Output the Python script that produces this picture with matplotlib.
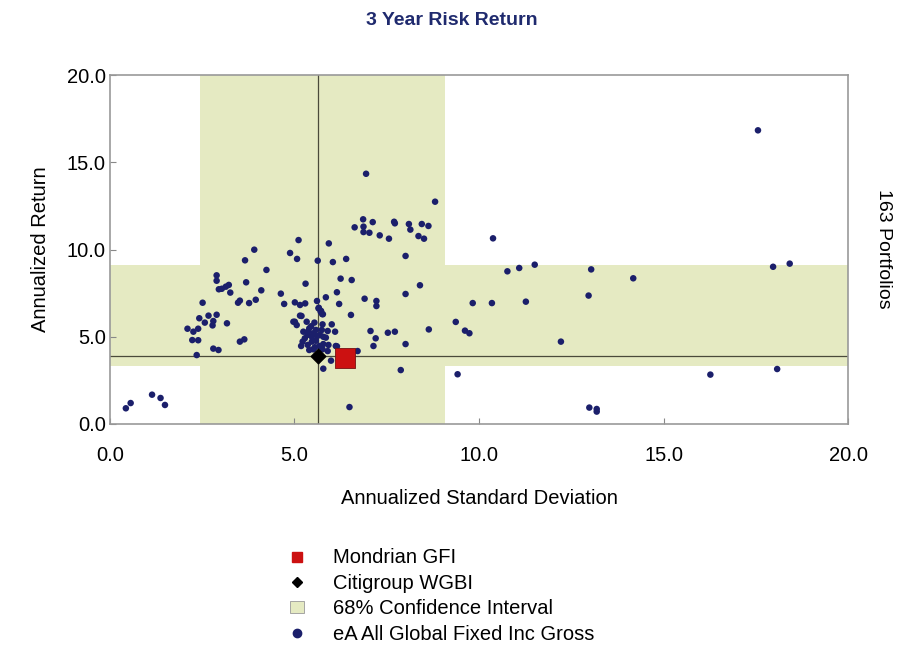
import matplotlib.pyplot as plt
from matplotlib.lines import Line2D
from matplotlib.patches import Patch

plt.rcParams['font.family'] = ['Liberation Sans', 'DejaVu Sans']

# peer universe (std dev, return)
peer_sd = [
    6.94, 8.81, 6.86, 7.12, 6.63, 6.87, 6.87, 7.03, 7.31, 7.56, 7.70, 7.72, 8.10, 8.14,
    8.45, 8.63, 8.36, 8.51, 8.01, 5.93, 5.11, 3.91, 3.66, 4.88, 5.07, 5.63, 6.04, 6.40,
    4.24, 2.89, 2.89, 3.69, 6.25, 6.55, 5.30, 3.22, 3.14, 3.03, 2.95, 3.26, 4.10, 4.63,
    6.15, 5.85, 8.40, 8.01, 6.90, 7.22, 7.22, 9.83, 2.51, 3.52, 3.47, 3.77, 3.95, 4.72,
    5.01, 5.15, 5.29, 5.61, 5.65, 5.71, 5.75, 6.21, 6.53, 2.42, 2.67, 2.89, 2.57, 2.80,
    2.78, 3.17, 2.10, 2.26, 2.39, 2.23, 2.39, 2.35, 2.80, 2.94, 3.52, 3.64, 5.01, 5.06,
    5.19, 5.66, 5.72, 5.77, 5.15, 4.97, 5.33, 5.54, 5.76, 6.01, 6.10, 5.90, 5.40, 5.37,
    5.24, 5.58, 5.51, 5.47, 5.74, 5.69, 5.78, 5.28, 5.22, 5.47, 5.58, 5.36, 5.67, 5.78,
    5.92, 5.18, 5.51, 5.40, 5.76, 5.90, 6.12, 6.71, 5.99, 5.78, 7.06, 7.20, 7.14, 7.53,
    7.72, 8.64, 8.01, 9.37, 9.62, 9.74, 9.42, 7.88, 6.49, 1.14, 1.37, 1.49, 0.56, 0.43,
    6.15, 17.56, 10.38, 10.77, 11.09, 11.51, 13.04, 14.18, 17.97, 18.42, 10.35, 11.27,
    12.97, 12.22, 16.27, 18.08, 12.99, 13.19, 13.19, 5.45, 5.62, 5.35, 5.85, 5.55,
]
peer_ret = [
    14.34, 12.74, 11.73, 11.57, 11.27, 11.31, 11.00, 10.96, 10.81, 10.62, 11.59, 11.50, 11.46, 11.14,
    11.46, 11.35, 10.77, 10.62, 9.63, 10.35, 10.54, 9.99, 9.38, 9.80, 9.46, 9.36, 9.28, 9.46,
    8.83, 8.52, 8.21, 8.12, 8.33, 8.25, 8.04, 7.97, 7.87, 7.75, 7.72, 7.53, 7.66, 7.47,
    7.55, 7.26, 7.95, 7.45, 7.18, 7.05, 6.76, 6.93, 6.95, 7.07, 6.95, 6.93, 7.12, 6.88,
    6.97, 6.82, 6.91, 7.05, 6.63, 6.44, 6.30, 6.88, 6.25, 6.06, 6.21, 6.26, 5.81, 5.90,
    5.65, 5.77, 5.46, 5.29, 5.46, 4.81, 4.80, 3.95, 4.32, 4.24, 4.72, 4.85, 5.86, 5.67,
    6.19, 6.66, 6.48, 6.29, 6.21, 5.86, 5.86, 5.81, 5.71, 5.71, 5.29, 5.33, 5.48, 5.29,
    5.29, 5.39, 5.20, 5.00, 5.39, 5.10, 5.00, 4.91, 4.72, 4.72, 4.77, 4.53, 4.47, 4.58,
    4.53, 4.47, 4.28, 4.24, 4.28, 4.18, 4.47, 4.18, 3.63, 3.17, 5.33, 4.91, 4.47, 5.23,
    5.29, 5.42, 4.58, 5.85, 5.35, 5.20, 2.85, 3.09, 0.97, 1.68, 1.49, 1.09, 1.20, 0.90,
    4.45, 16.83, 10.64, 8.75, 8.94, 9.13, 8.86, 8.35, 9.01, 9.19, 6.93, 7.01,
    7.36, 4.72, 2.83, 3.15, 0.94, 0.86, 0.71, 5.60, 5.05, 5.10, 4.95, 4.40,
]

# manager, benchmark
fund_sd, fund_ret = 6.37, 3.78
bench_sd, bench_ret = 5.64, 3.90

# 68% confidence intervals
sd_low, sd_high = 2.44, 9.08
ret_low, ret_high = 3.32, 9.11

n_portfolios = 163

band_color = '#e5eac2'
navy = '#1b1f6b'

fig = plt.figure(figsize=(9.03, 6.54), dpi=100)
ax = fig.add_axes([0.1218, 0.3517, 0.8173, 0.5336])

ax.axvspan(sd_low, sd_high, color=band_color, lw=0, zorder=0)
ax.axhspan(ret_low, ret_high, color=band_color, lw=0, zorder=0)
ax.axvline(bench_sd, color='#4a4a3a', lw=0.9, zorder=1)
ax.axhline(bench_ret, color='#4a4a3a', lw=0.9, zorder=1)

ax.scatter(peer_sd, peer_ret, s=22, color=navy, edgecolors='none', zorder=2)
ax.scatter([bench_sd], [bench_ret], marker='D', s=55, color='black', zorder=3)
ax.scatter([fund_sd], [fund_ret], marker='s', s=200, color='#cc1111',
           edgecolors='#771111', linewidths=0.6, zorder=4)

ax.set_xlim(0, 20)
ax.set_ylim(0, 20)
ticks = [0, 5, 10, 15, 20]
tick_labels = ['0.0', '5.0', '10.0', '15.0', '20.0']
ax.set_xticks(ticks)
ax.set_yticks(ticks)
ax.set_xticklabels(tick_labels)
ax.set_yticklabels(tick_labels)
ax.tick_params(direction='in', length=4, color='#888888', labelsize=14.5)
ax.tick_params(axis='x', pad=16)
ax.tick_params(axis='y', pad=3)
for sp in ax.spines.values():
    sp.set_color('#999999')
    sp.set_linewidth(1.2)

ax.set_xlabel('Annualized Standard Deviation', fontsize=14.5, labelpad=17)
ax.set_ylabel('Annualized Return', fontsize=14.5, labelpad=12)
fig.text(0.5, 0.969, '3 Year Risk Return', fontsize=14, fontweight='bold',
         color='#1f2a6e', ha='center', va='center')
fig.text(0.978, 0.62, f'{n_portfolios} Portfolios', rotation=270, fontsize=14,
         ha='center', va='center')

handles = [
    Line2D([], [], marker='s', ls='none', color='#cc1111', markersize=7),
    Line2D([], [], marker='D', ls='none', color='black', markersize=5),
    Patch(facecolor=band_color, edgecolor='#999999', lw=0.6),
    Line2D([], [], marker='o', ls='none', color=navy, markersize=6),
]
labels = ['Mondrian GFI', 'Citigroup WGBI', '68% Confidence Interval', 'eA All Global Fixed Inc Gross']
fig.legend(handles, labels, loc='upper left', bbox_to_anchor=(0.3125, 0.174), frameon=False,
           fontsize=14.5, handlelength=0.7, handleheight=0.6, handletextpad=1.4,
           labelspacing=0.32, borderaxespad=0)

fig.savefig('out.png', dpi=100)
